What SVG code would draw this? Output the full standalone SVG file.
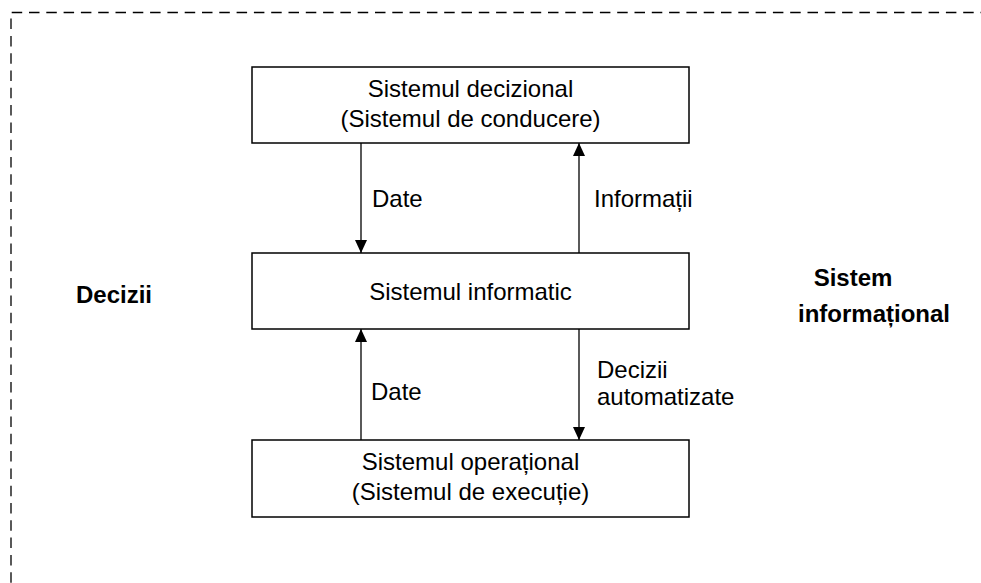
<svg xmlns="http://www.w3.org/2000/svg" width="981" height="583" viewBox="0 0 981 583">
  <style>
    .box { fill: #ffffff; stroke: #000000; stroke-width: 1.5; }
    .conn { stroke: #000000; stroke-width: 1.3; fill: none; }
    .t { font-family: "Liberation Sans", Arial, sans-serif; font-size: 24px; fill: #000000; }
    .c { text-anchor: middle; }
    .b { font-family: "Liberation Sans", Arial, sans-serif; font-size: 24px; font-weight: bold; fill: #000000; }
    .border { fill: none; stroke: #000000; stroke-width: 1.3; stroke-dasharray: 10.5 6.8; }
  </style>
  <defs>
    <marker id="arrow" viewBox="0 0 13 12" refX="13" refY="6" markerWidth="13" markerHeight="12" markerUnits="userSpaceOnUse" orient="auto">
      <path d="M0,0 L13,6 L0,12 z" fill="#000000"/>
    </marker>
  </defs>
  <rect width="981" height="583" fill="#ffffff"/>
  <path class="border" d="M11 600 V12.5 H990"/>

  <g id="node-decizional">
    <rect class="box" x="252" y="67" width="437" height="76"/>
    <text class="t c" x="470.5" y="97">Sistemul decizional</text>
    <text class="t c" x="470.5" y="127">(Sistemul de conducere)</text>
  </g>
  <g id="node-informatic">
    <rect class="box" x="252" y="253" width="437" height="76"/>
    <text class="t c" x="470.5" y="300">Sistemul informatic</text>
  </g>
  <g id="node-operational">
    <rect class="box" x="252" y="440" width="437" height="77"/>
    <text class="t c" x="470.5" y="470">Sistemul operațional</text>
    <text class="t c" x="470.5" y="500">(Sistemul de execuție)</text>
  </g>

  <g id="connectors">
    <line class="conn" x1="361" y1="143" x2="361" y2="253" marker-end="url(#arrow)"/>
    <line class="conn" x1="579" y1="253" x2="579" y2="143" marker-end="url(#arrow)"/>
    <line class="conn" x1="361" y1="440" x2="361" y2="329" marker-end="url(#arrow)"/>
    <line class="conn" x1="579" y1="329" x2="579" y2="440" marker-end="url(#arrow)"/>
    <text class="t" x="372" y="207">Date</text>
    <text class="t" x="594" y="207">Informații</text>
    <text class="t" x="371" y="400">Date</text>
    <text class="t" x="597" y="378">Decizii</text>
    <text class="t" x="597" y="405">automatizate</text>
  </g>

  <g id="label-decizii">
    <text class="b" x="76" y="303">Decizii</text>
  </g>
  <g id="label-sistem-informational">
    <text class="b c" x="853" y="286">Sistem</text>
    <text class="b c" x="874" y="322">informațional</text>
  </g>
</svg>
